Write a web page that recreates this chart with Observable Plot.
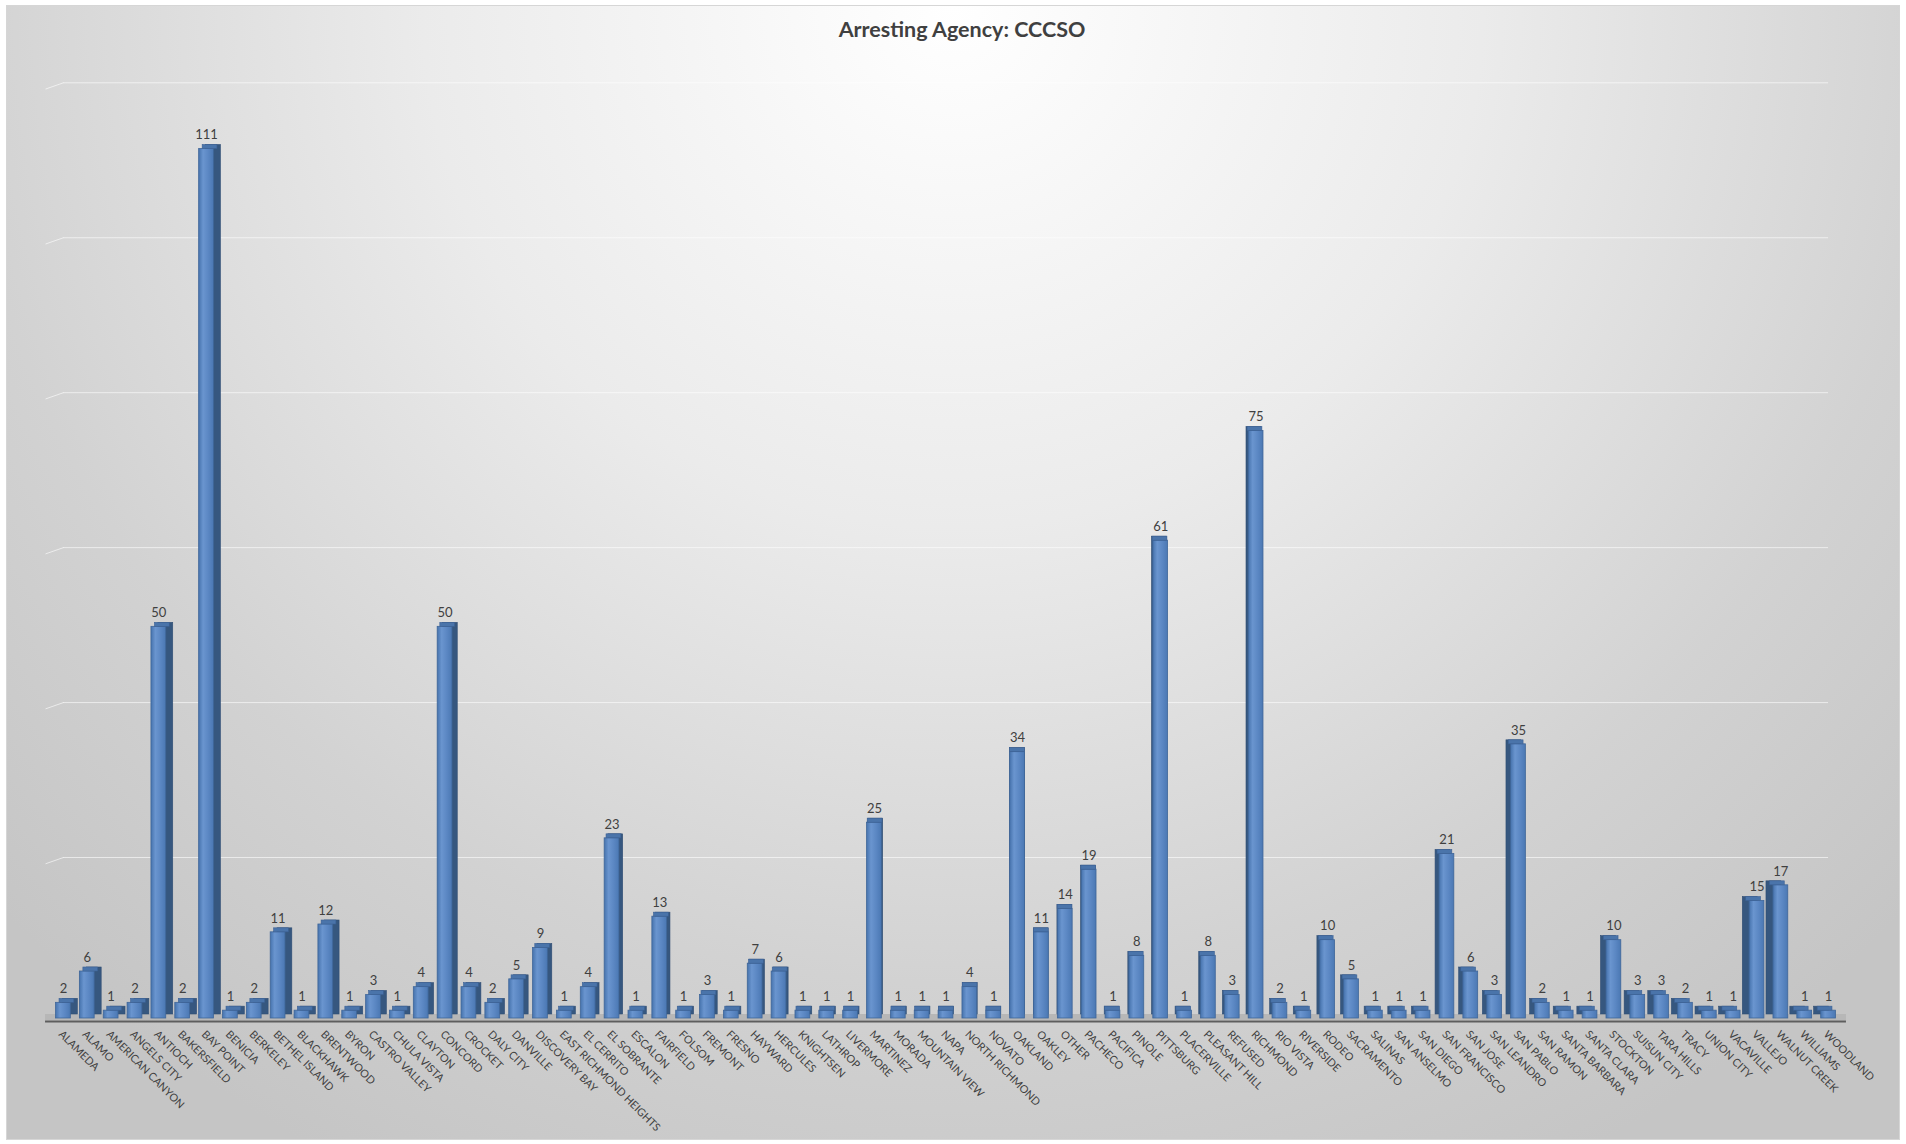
<!DOCTYPE html>
<html><head><meta charset="utf-8">
<script src="https://cdn.jsdelivr.net/npm/d3@7"></script>
<script src="https://cdn.jsdelivr.net/npm/@observablehq/plot@0.6"></script>
<style>
html,body{margin:0;padding:0;background:#fff;}
#page{position:relative;width:1906px;height:1144px;overflow:hidden;background:#fff;}
#frame{position:absolute;left:6px;top:5px;width:1892px;height:1133px;border:1px solid #d6d6d6;
  background:radial-gradient(ellipse 70% 115% at 50% 0%, #ffffff 0%, #ebebeb 40%, #d2d2d2 75%, #c5c5c5 100%);}
#title{position:absolute;top:16px;left:0;width:1906px;padding-left:18px;box-sizing:border-box;text-align:center;
  font:bold 21.5px Lato, "Open Sans", sans-serif;color:#404040;}
#plot{position:absolute;left:0;top:60px;}
</style></head>
<body><div id="page"><div id="frame"></div><div id="title">Arresting Agency: CCCSO</div><div id="plot"></div></div>
<script>
const cities = ["ALAMEDA","ALAMO","AMERICAN CANYON","ANGELS CITY","ANTIOCH","BAKERSFIELD","BAY POINT","BENICIA","BERKELEY","BETHEL ISLAND","BLACKHAWK","BRENTWOOD","BYRON","CASTRO VALLEY","CHULA VISTA","CLAYTON","CONCORD","CROCKET","DALY CITY","DANVILLE","DISCOVERY BAY","EAST RICHMOND HEIGHTS","EL CERRITO","EL SOBRANTE","ESCALON","FAIRFIELD","FOLSOM","FREMONT","FRESNO","HAYWARD","HERCULES","KNIGHTSEN","LATHROP","LIVERMORE","MARTINEZ","MORADA","MOUNTAIN VIEW","NAPA","NORTH RICHMOND","NOVATO","OAKLAND","OAKLEY","OTHER","PACHECO","PACIFICA","PINOLE","PITTSBURG","PLACERVILLE","PLEASANT HILL","REFUSED","RICHMOND","RIO VISTA","RIVERSIDE","RODEO","SACRAMENTO","SALINAS","SAN ANSELMO","SAN DIEGO","SAN FRANCISCO","SAN JOSE","SAN LEANDRO","SAN PABLO","SAN RAMON","SANTA BARBARA","SANTA CLARA","STOCKTON","SUISUN CITY","TARA HILLS","TRACY","UNION CITY","VACAVILLE","VALLEJO","WALNUT CREEK","WILLIAMS","WOODLAND"];
const counts = [2,6,1,2,50,2,111,1,2,11,1,12,1,3,1,4,50,4,2,5,9,1,4,23,1,13,1,3,1,7,6,1,1,1,25,1,1,1,4,1,34,11,14,19,1,8,61,1,8,3,75,2,1,10,5,1,1,1,21,6,3,35,2,1,1,10,3,3,2,1,1,15,17,1,1];
const gridValues = [20,40,60,80,100,120];

const data = cities.map((city, i) => ({i, city, n: counts[i]}));
const n = cities.length;
const W = 1906, H = 1084, ML = 51, MR = 66;
const PX = (W - ML - MR) / n;           // pixels per category
const HALF = 0.31;                       // half width of front face (in category units)
const sideOf = d => (d.i < 40 ? 1 : -1) * Math.min(7, 0.22 * Math.abs(d.i - 40)) / PX;
// back wall sits slightly behind the bars (perspective): gridlines a touch compressed
const wallY = v => v * 0.989 + 0.77;

const defs = () => {
  const s = d3.create("svg:defs");
  const g = s.append("linearGradient").attr("id", "frontGrad").attr("x1", 0).attr("x2", 1).attr("y1", 0).attr("y2", 0);
  [[0, "#4673ad"], [0.3, "#6a95cf"], [0.65, "#5b87c3"], [1, "#4b78b3"]].forEach(([o, c]) =>
    g.append("stop").attr("offset", o).attr("stop-color", c));
  return s.node();
};

const chart = Plot.plot({
  width: W, height: H,
  marginLeft: ML, marginRight: MR, marginTop: 18, marginBottom: 126,
  style: {background: "transparent", fontFamily: "Lato, 'Open Sans', sans-serif", color: "#404040"},
  x: {domain: [-0.5, n - 0.5]},
  y: {domain: [0, 120], axis: null},
  marks: [
    defs,
    // back-wall gridlines (with the slanted piece on the side wall)
    Plot.ruleY(gridValues, {y: wallY, x1: 0, x2: n - 1, stroke: "#ffffff", strokeOpacity: 0.6, strokeWidth: 1}),
    Plot.link(gridValues, {x1: -0.75, x2: 0, y1: d => wallY(d) - 0.8, y2: wallY, stroke: "#ffffff", strokeOpacity: 0.6}),
    // floor
    Plot.rect([0], {x1: -0.75, x2: n - 0.25, y1: 0, y2: 0, insetTop: -4, insetBottom: -2, fill: "#b7b7b7"}),
    Plot.ruleY([0], {x1: -0.75, x2: n - 0.25, dy: 3, stroke: "#5e5e5e", strokeWidth: 2}),
    // side + back faces
    Plot.rect(data, {x1: d => d.i - HALF + sideOf(d), x2: d => d.i + HALF + sideOf(d), y1: 0, y2: "n", dy: -4,
      fill: "#36577f", stroke: "#2f4d73", strokeWidth: 0.6}),
    // front faces
    Plot.rect(data, {x1: d => d.i - HALF, x2: d => d.i + HALF, y1: 0, y2: "n",
      fill: "url(#frontGrad)", stroke: "#3f6699", strokeWidth: 0.8}),
    // top faces
    Plot.rect(data, {x1: d => d.i - HALF + sideOf(d) / 2, x2: d => d.i + HALF + sideOf(d) / 2, y1: "n", y2: "n",
      insetTop: -4, fill: "#4a74aa", stroke: "#3c6194", strokeWidth: 0.6}),
    // value labels
    Plot.text(data, {x: "i", y: "n", text: d => String(d.n), dy: -14, fontSize: 13, fill: "#404040"}),
    // category axis
    Plot.axisX(d3.range(n), {tickFormat: i => cities[i], tickRotate: 45, tickSize: 0, tickPadding: 14,
      fontSize: 10.8, fill: "#404040", textAnchor: "start", dx: -3, label: null})
  ]
});
document.getElementById("plot").append(chart);
</script>
</body></html>
